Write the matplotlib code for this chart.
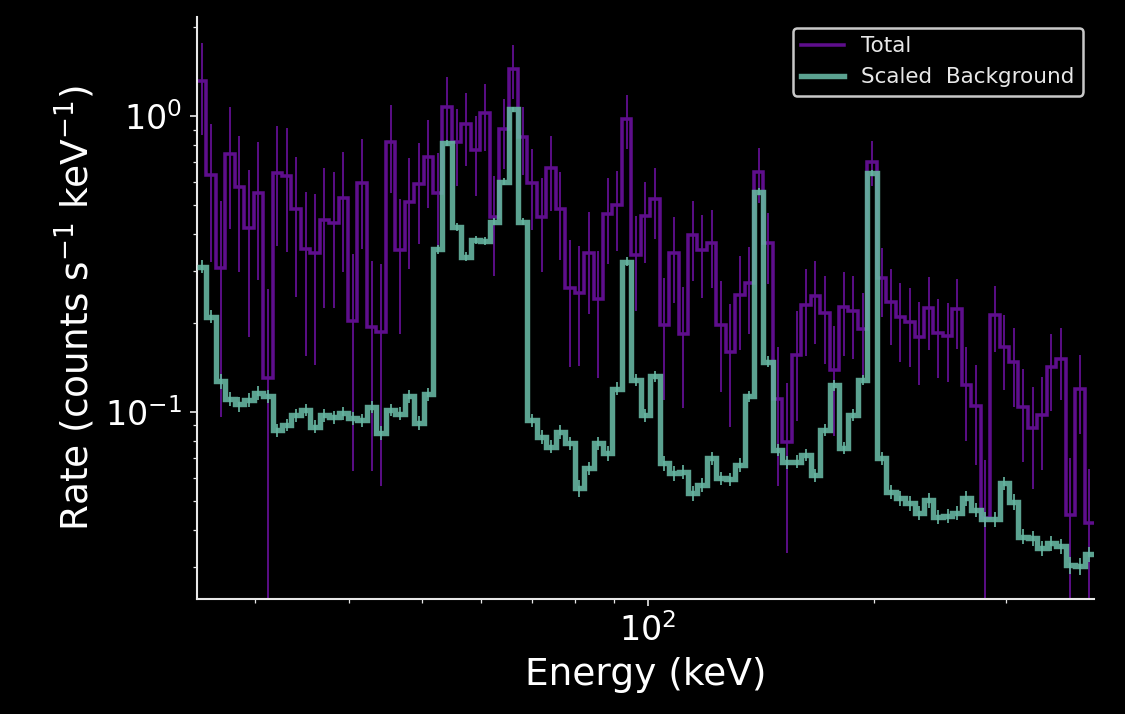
import numpy as np
import matplotlib
matplotlib.use("Agg")
import matplotlib.pyplot as plt
from matplotlib.lines import Line2D

# ---- data -------------------------------------------------------------
e_min, e_max, n_bins = 25.08, 392.9, 95
edges = np.geomspace(e_min, e_max, n_bins + 1)

total = [1.31, 0.632, 0.306, 0.744, 0.577, 0.419, 0.549, 0.130, 0.644, 0.628,
         0.485, 0.355, 0.344, 0.445, 0.435, 0.528, 0.203, 0.595, 0.193, 0.186,
         0.819, 0.353, 0.513, 0.589, 0.729, 0.549, 1.07, 0.819, 0.937, 0.768,
         1.02, 0.457, 0.904, 1.44, 0.851, 0.593, 0.457, 0.669, 0.485, 0.262,
         0.253, 0.345, 0.240, 0.467, 0.500, 0.975, 0.339, 0.459, 0.525, 0.197,
         0.344, 0.184, 0.396, 0.353, 0.373, 0.197, 0.160, 0.249, 0.272, 0.645,
         0.371, 0.111, 0.0794, 0.156, 0.230, 0.247, 0.216, 0.139, 0.226, 0.220,
         0.190, 0.701, 0.284, 0.236, 0.210, 0.202, 0.179, 0.224, 0.185, 0.180,
         0.222, 0.123, 0.105, 0.0438, 0.213, 0.166, 0.148, 0.104, 0.088, 0.0977,
         0.142, 0.151, 0.0449, 0.120, 0.042]

total_err = [0.45, 0.31, 0.21, 0.33, 0.28, 0.24, 0.27, 0.13, 0.28, 0.28,
             0.24, 0.20, 0.20, 0.22, 0.21, 0.23, 0.14, 0.24, 0.13, 0.13,
             0.27, 0.17, 0.21, 0.22, 0.24, 0.20, 0.28, 0.24, 0.26, 0.23,
             0.26, 0.17, 0.24, 0.30, 0.22, 0.18, 0.16, 0.19, 0.16, 0.12,
             0.11, 0.13, 0.11, 0.15, 0.15, 0.20, 0.12, 0.14, 0.14, 0.087,
             0.11, 0.081, 0.12, 0.11, 0.11, 0.080, 0.071, 0.087, 0.089, 0.136,
             0.10, 0.055, 0.046, 0.063, 0.075, 0.077, 0.071, 0.056, 0.071, 0.069,
             0.063, 0.12, 0.075, 0.067, 0.062, 0.060, 0.056, 0.062, 0.055, 0.054,
             0.059, 0.043, 0.039, 0.025, 0.054, 0.047, 0.044, 0.036, 0.033, 0.034,
             0.041, 0.041, 0.025, 0.036, 0.022]

background = [0.310, 0.210, 0.127, 0.111, 0.106, 0.110, 0.116, 0.113, 0.0869, 0.0904,
              0.0977, 0.1016, 0.0892, 0.0977, 0.096, 0.099, 0.0953, 0.0938, 0.104, 0.0851,
              0.1016, 0.0987, 0.113, 0.0917, 0.1146, 0.355, 0.809, 0.423, 0.335, 0.381,
              0.378, 0.440, 0.600, 1.053, 0.440, 0.0938, 0.0826, 0.0764, 0.0858, 0.0784,
              0.0552, 0.0645, 0.0784, 0.0725, 0.120, 0.322, 0.128, 0.0977, 0.132, 0.067,
              0.0621, 0.0629, 0.0531, 0.0567, 0.0698, 0.0597, 0.0594, 0.0662, 0.113, 0.555,
              0.148, 0.0744, 0.0675, 0.068, 0.0716, 0.0611, 0.0869, 0.123, 0.0754, 0.0977,
              0.128, 0.640, 0.0698, 0.0538, 0.0511, 0.0492, 0.0455, 0.0503, 0.0443, 0.0445,
              0.0455, 0.0511, 0.0467, 0.0434, 0.0434, 0.0574, 0.0498, 0.0379, 0.0375, 0.0347,
              0.036, 0.0352, 0.0304, 0.0302, 0.0331]

background_err = [0.016, 0.011, 0.007, 0.006, 0.006, 0.006, 0.006, 0.006, 0.0045, 0.0045,
                  0.005, 0.005, 0.0045, 0.005, 0.005, 0.005, 0.005, 0.005, 0.005, 0.0045,
                  0.005, 0.005, 0.006, 0.005, 0.006, 0.012, 0.02, 0.013, 0.012, 0.012,
                  0.012, 0.013, 0.016, 0.022, 0.013, 0.005, 0.0045, 0.004, 0.0045, 0.004,
                  0.0035, 0.0035, 0.004, 0.004, 0.006, 0.011, 0.006, 0.005, 0.006, 0.004,
                  0.0035, 0.0035, 0.003, 0.003, 0.0035, 0.003, 0.003, 0.0035, 0.005, 0.014,
                  0.006, 0.0035, 0.0035, 0.0035, 0.0035, 0.003, 0.004, 0.005, 0.0035, 0.0045,
                  0.005, 0.015, 0.0035, 0.003, 0.003, 0.003, 0.0025, 0.003, 0.0025, 0.0025,
                  0.0025, 0.003, 0.0025, 0.0025, 0.0025, 0.003, 0.003, 0.0022, 0.0022, 0.002,
                  0.002, 0.002, 0.002, 0.002, 0.002]

labels = ["Total", "Scaled  Background"]

# ---- style ------------------------------------------------------------
purple = "#5e0e8c"
teal = "#66b5a1"
fg = "#e8e8e8"

fig = plt.figure(figsize=(7.5, 4.76), dpi=150, facecolor="black")
ax = fig.add_axes([0.1751, 0.1611, 0.7973, 0.8151], facecolor="black")

centers = np.sqrt(edges[:-1] * edges[1:])

ax.stairs(total, edges, baseline=None, color=purple, lw=1.7, zorder=2)
ax.errorbar(centers, total, yerr=total_err, fmt="none", ecolor=purple,
            elinewidth=0.9, zorder=2)
ax.stairs(background, edges, baseline=None, color=teal, lw=2.6, alpha=0.9, zorder=3)
ax.errorbar(centers, background, yerr=background_err, fmt="none", ecolor=teal,
            elinewidth=0.9, alpha=0.9, zorder=3)

ax.set_xscale("log")
ax.set_yscale("log")
ax.set_xlim(edges[0], edges[-1])
ax.set_ylim(0.02334, 2.16)

for s in ["top", "right"]:
    ax.spines[s].set_visible(False)
for s in ["left", "bottom"]:
    ax.spines[s].set_color(fg)
    ax.spines[s].set_linewidth(1.0)

ax.tick_params(which="both", colors=fg, labelcolor="white")
ax.tick_params(which="major", labelsize=16)
ax.set_xlabel("Energy (keV)", fontsize=18, color="white")
ax.set_ylabel("Rate (counts s$^{-1}$ keV$^{-1}$)", fontsize=18, color="white")

handles = [Line2D([], [], color=purple, lw=1.7),
           Line2D([], [], color=teal, lw=2.6, alpha=0.9)]
leg = ax.legend(handles, labels, loc="upper right", fontsize=10.3,
                facecolor="black", edgecolor="#c8c8c8", framealpha=1)
for t in leg.get_texts():
    t.set_color("#e8e8e8")
leg.get_frame().set_linewidth(1.2)

fig.savefig("out.png", dpi=150, facecolor="black")
